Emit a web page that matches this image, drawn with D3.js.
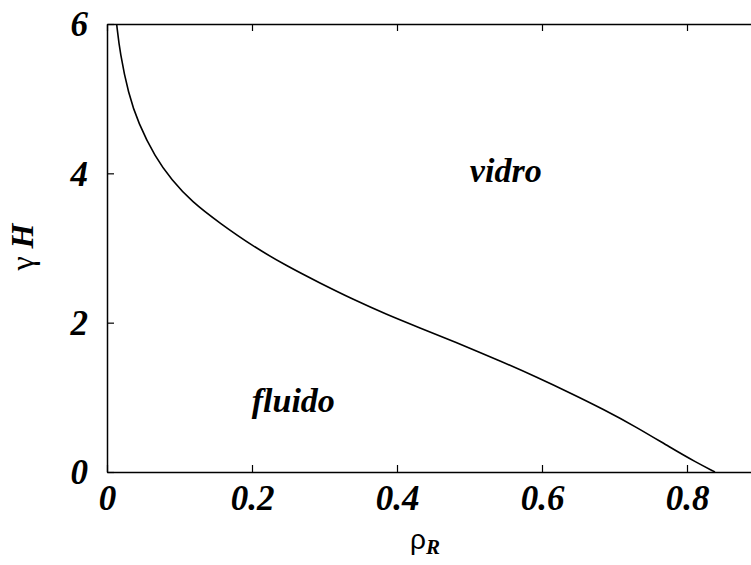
<!DOCTYPE html>
<html>
<head>
<meta charset="utf-8">
<script src="https://cdn.jsdelivr.net/npm/d3@7"></script>
<style>
  body { margin: 0; background: #fff; }
  .tick text { font-family: "Liberation Serif", serif; font-weight: bold; font-style: italic; }
</style>
</head>
<body>
<svg id="chart" width="751" height="565"></svg>
<script>
// boundary between fluid and glass phase
var rhoR = [0.0133, 0.0179, 0.0294, 0.0432, 0.0662, 0.0892, 0.1168, 0.1559, 0.2018, 0.2478,
            0.2938, 0.3398, 0.3858, 0.4317, 0.4777, 0.5467, 0.5927, 0.6386, 0.6846,
            0.7306, 0.7766, 0.8133, 0.8386];
var gammaH = [6.0, 5.61, 5.07, 4.67, 4.22, 3.91, 3.62, 3.33, 3.02, 2.76,
              2.53, 2.31, 2.11, 1.93, 1.75, 1.47, 1.27, 1.06, 0.84,
              0.60, 0.33, 0.125, 0.0];
var xTicks = [0, 0.2, 0.4, 0.6, 0.8];
var yTicks = [0, 2, 4, 6];
var regionLabels = ["vidro", "fluido"];
var regionPos = [[0.550, 3.88], [0.257, 0.80]];

var svg = d3.select('#chart');

// plot box (right edge runs off the picture, as in the original)
var mLeft = 107, mTop = 24, mRight = 832, mBottom = 472;

var x = d3.scaleLinear().domain([0, 1]).range([mLeft, mRight]);
var y = d3.scaleLinear().domain([0, 6]).range([mBottom, mTop]);

var tickFmt = function(d) { return d === 0 ? '0' : d3.format('.1f')(d); };

// bottom axis
var gx = svg.append('g').attr('transform', 'translate(0,' + mBottom + ')')
  .call(d3.axisBottom(x).tickValues(xTicks).tickFormat(tickFmt).tickSizeInner(-7).tickSizeOuter(0).tickPadding(13));
// top mirror ticks
var gxt = svg.append('g').attr('transform', 'translate(0,' + mTop + ')')
  .call(d3.axisTop(x).tickValues(xTicks).tickFormat('').tickSizeInner(-7).tickSizeOuter(0));
// left axis
var gy = svg.append('g').attr('transform', 'translate(' + mLeft + ',0)')
  .call(d3.axisLeft(y).tickValues(yTicks).tickFormat(d3.format('d')).tickSizeInner(-7).tickSizeOuter(0).tickPadding(19));
// right mirror ticks
var gyr = svg.append('g').attr('transform', 'translate(' + mRight + ',0)')
  .call(d3.axisRight(y).tickValues(yTicks).tickFormat('').tickSizeInner(-7).tickSizeOuter(0));

[gx, gxt, gy, gyr].forEach(function(g) {
  g.select('.domain').attr('stroke', '#000').attr('stroke-width', 1.5);
  g.selectAll('.tick line').attr('stroke', '#000').attr('stroke-width', 1.2);
  g.selectAll('.tick text').attr('font-size', 35).attr('fill', '#000');
});
gx.selectAll('.tick text').attr('dy', '0.71em');
gy.selectAll('.tick text').attr('dy', '0.34em');

// clip to the plot box
svg.append('clipPath').attr('id', 'clip')
  .append('rect').attr('x', mLeft).attr('y', mTop).attr('width', mRight - mLeft).attr('height', mBottom - mTop);

var pts = rhoR.map(function(r, i) { return [r, gammaH[i]]; });
var line = d3.line()
  .x(function(d) { return x(d[0]); })
  .y(function(d) { return y(d[1]); })
  .curve(d3.curveBasis);

svg.append('path')
  .datum(pts)
  .attr('clip-path', 'url(#clip)')
  .attr('fill', 'none')
  .attr('stroke', '#000')
  .attr('stroke-width', 1.6)
  .attr('d', line);

// region labels
svg.selectAll('.region')
  .data(regionLabels)
  .enter()
  .append('text')
  .attr('class', 'region')
  .attr('x', function(d, i) { return x(regionPos[i][0]); })
  .attr('y', function(d, i) { return y(regionPos[i][1]); })
  .attr('text-anchor', 'middle')
  .attr('font-family', '"Liberation Serif", serif')
  .attr('font-weight', 'bold')
  .attr('font-style', 'italic')
  .attr('font-size', 34)
  .text(function(d) { return d; });

// x axis title: rho_R
var xt = svg.append('text')
  .attr('x', 425)
  .attr('y', 549)
  .attr('text-anchor', 'middle')
  .attr('font-family', '"Liberation Sans", sans-serif')
  .attr('font-size', 28);
xt.append('tspan').text('ρ');
xt.append('tspan')
  .attr('dy', 5)
  .attr('font-family', '"Liberation Serif", serif')
  .attr('font-weight', 'bold')
  .attr('font-style', 'italic')
  .attr('font-size', 21)
  .text('R');

// y axis title: gamma H
var yt = svg.append('text')
  .attr('transform', 'translate(33,247) rotate(-90)')
  .attr('text-anchor', 'middle')
  .attr('font-family', '"Liberation Serif", serif')
  .attr('font-size', 32);
yt.append('tspan').text('γ ');
yt.append('tspan')
  .attr('font-weight', 'bold')
  .attr('font-style', 'italic')
  .text('H');
</script>
</body>
</html>
